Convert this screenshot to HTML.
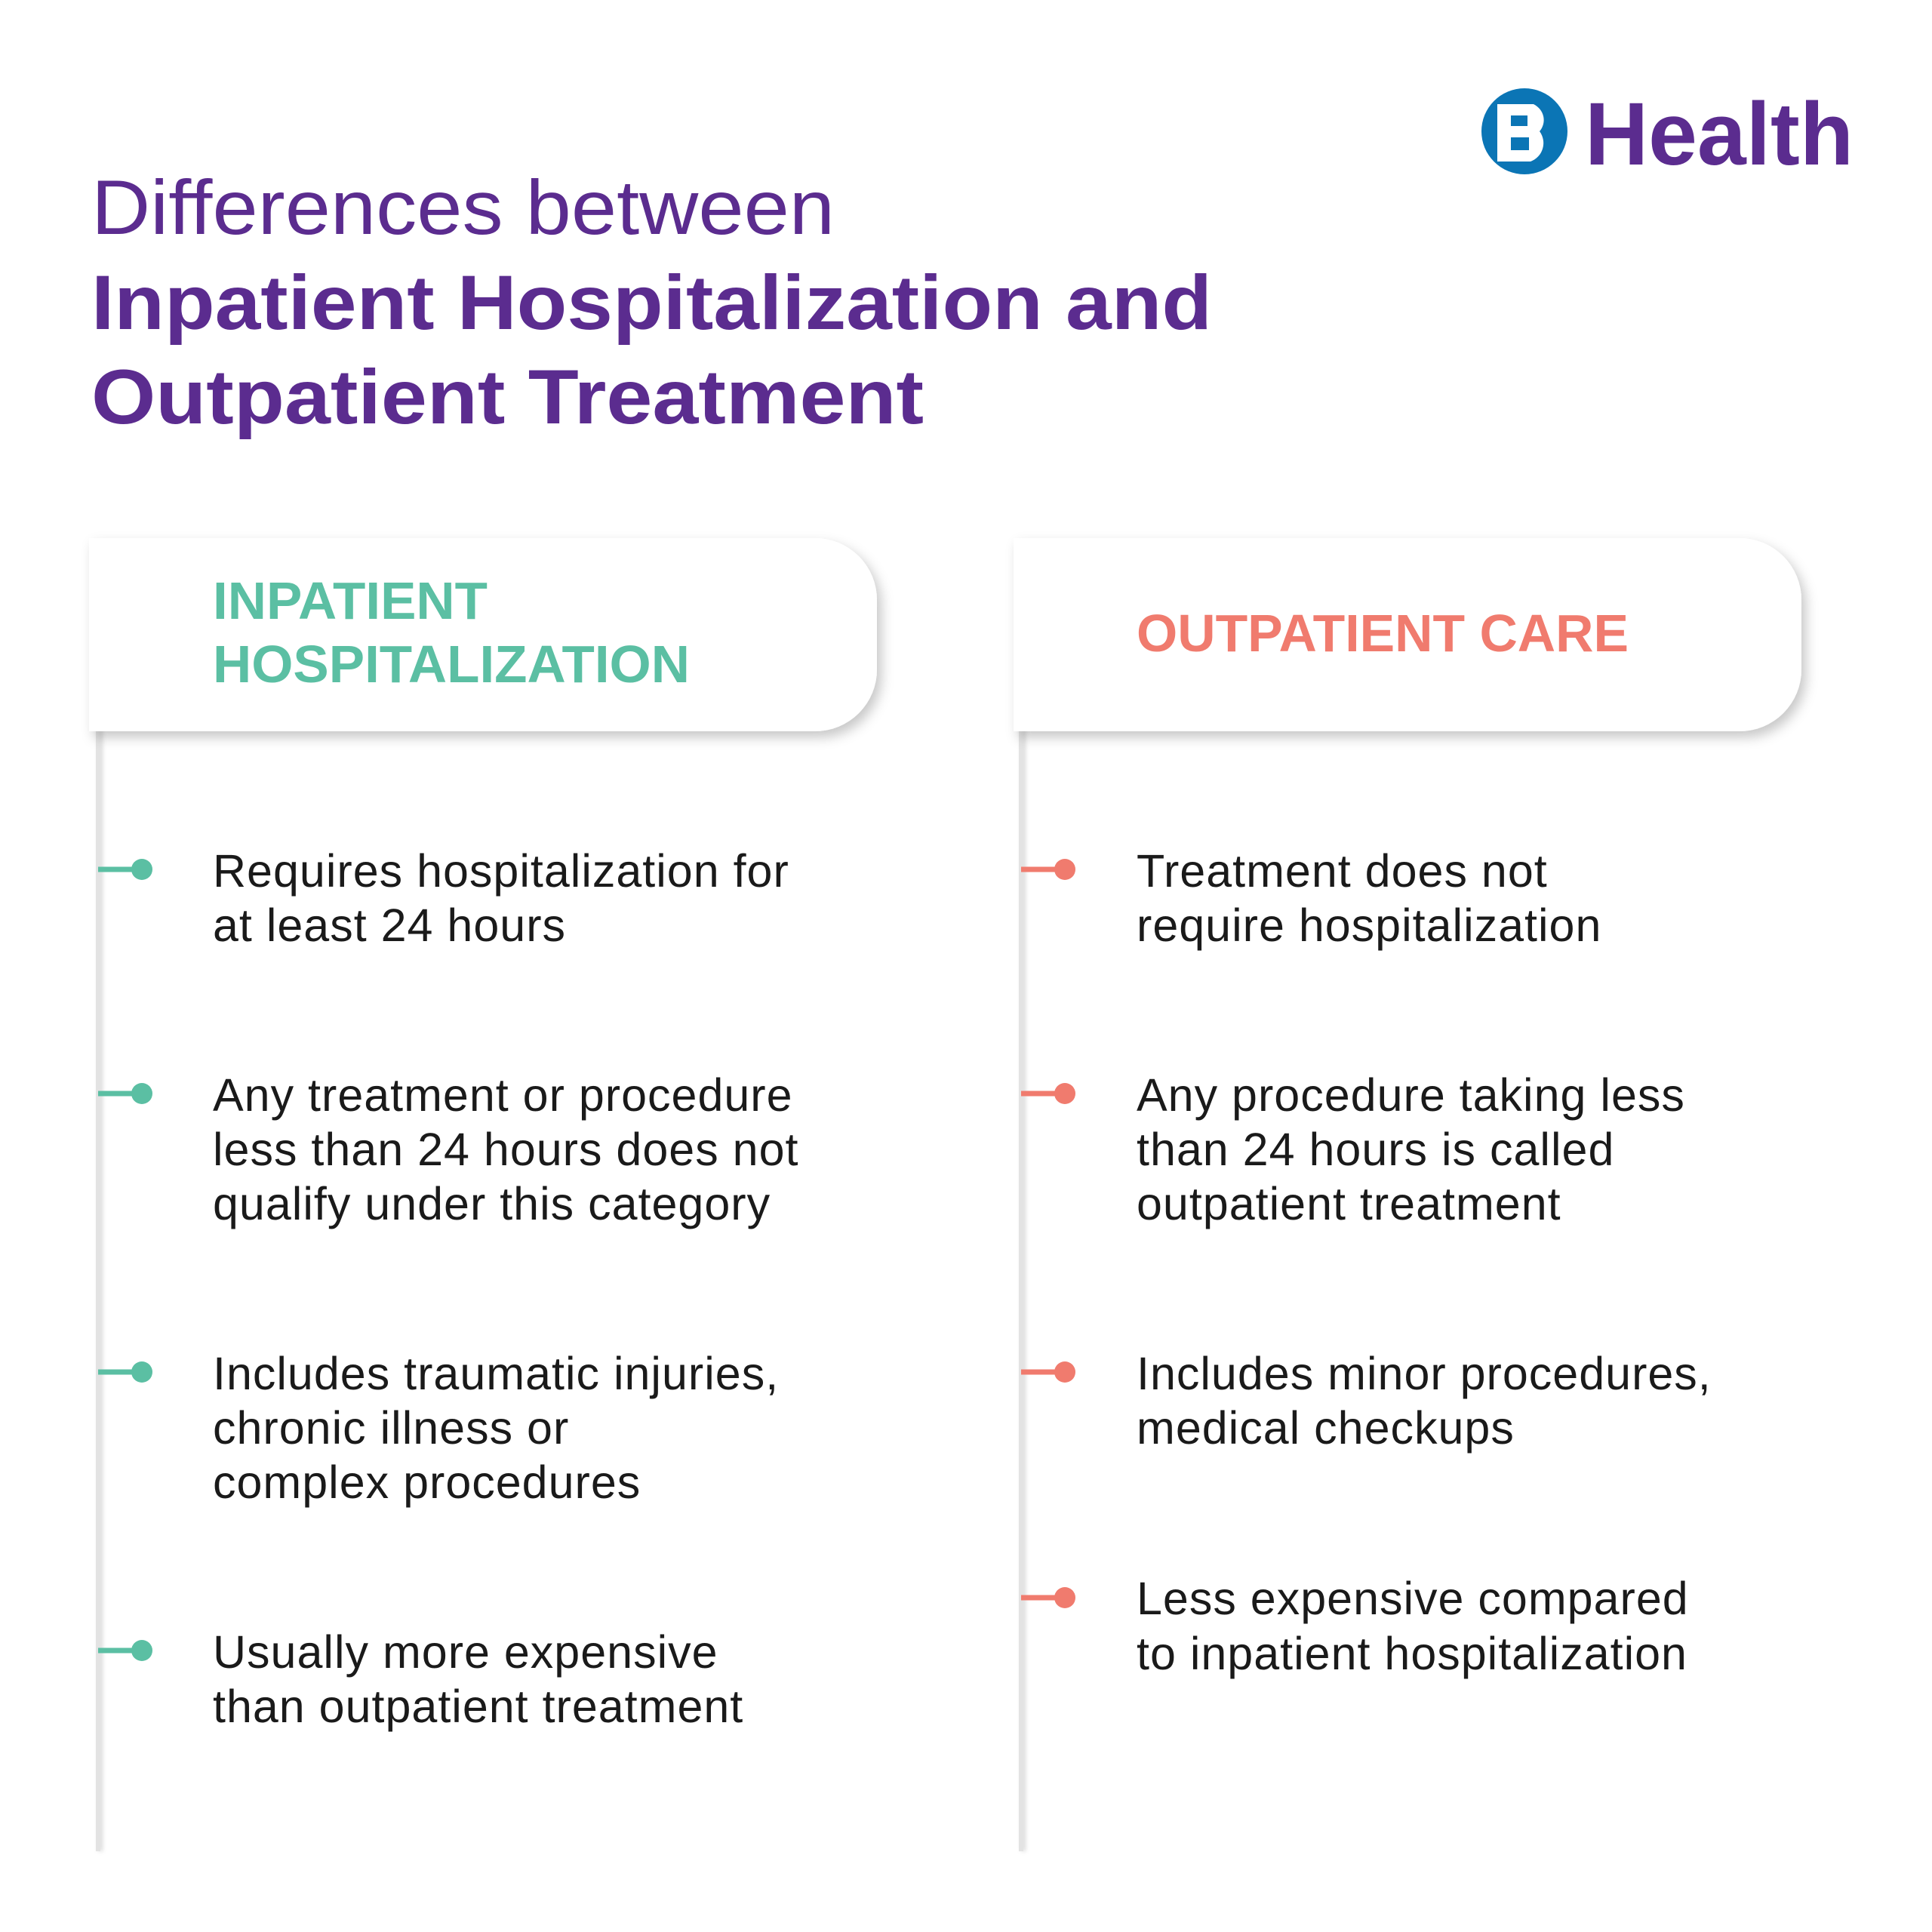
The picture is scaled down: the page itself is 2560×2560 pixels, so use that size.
<!DOCTYPE html>
<html><head><meta charset="utf-8"><style>
html,body{margin:0;padding:0;background:#fff;}
svg{display:block;}
text{font-family:"Liberation Sans",sans-serif;}
</style></head><body>
<svg width="2560" height="2560" viewBox="0 0 2560 2560" xmlns="http://www.w3.org/2000/svg">
<defs>
<filter id="sh" x="-10%" y="-20%" width="125%" height="150%">
<feDropShadow dx="6" dy="8" stdDeviation="8" flood-color="#000" flood-opacity="0.22"/>
</filter>
<filter id="ls" x="-50%" y="-5%" width="300%" height="110%">
<feDropShadow dx="3" dy="0" stdDeviation="3" flood-color="#000" flood-opacity="0.15"/>
</filter>
</defs>
<rect width="2560" height="2560" fill="#fff"/>
<!-- logo -->
<circle cx="2020" cy="174" r="57" fill="#0b75b5"/>
<path d="M1984 138 h48 a26 24 0 0 1 8 36 a26 26 0 0 1 -12 40 h-44 z M2002 153 v14 h22 v-14 z M2002 182 v17 h24 v-17 z" fill="#fff" fill-rule="evenodd"/>
<text x="2100" y="218" font-size="118" font-weight="bold" fill="#5b2c8f" textLength="356" lengthAdjust="spacingAndGlyphs">Health</text>
<!-- title -->
<text x="121" y="310" font-size="102" fill="#5b2c8f" textLength="985" lengthAdjust="spacingAndGlyphs">Differences between</text>
<text x="121" y="436" font-size="102" font-weight="bold" fill="#5b2c8f" textLength="1485" lengthAdjust="spacingAndGlyphs">Inpatient Hospitalization and</text>
<text x="121" y="561" font-size="102" font-weight="bold" fill="#5b2c8f" textLength="1103" lengthAdjust="spacingAndGlyphs">Outpatient Treatment</text>
<!-- vertical lines -->
<rect x="127" y="960" width="6" height="1493" fill="#e3e3e3" filter="url(#ls)"/>
<rect x="1350" y="960" width="6" height="1493" fill="#e3e3e3" filter="url(#ls)"/>
<!-- cards -->
<path d="M118 713 H1080 a82 82 0 0 1 82 82 V887 a82 82 0 0 1 -82 82 H118 Z" fill="#fff" filter="url(#sh)"/>
<path d="M1343 713 H2305 a82 82 0 0 1 82 82 V887 a82 82 0 0 1 -82 82 H1343 Z" fill="#fff" filter="url(#sh)"/>
<text x="282" y="820" font-size="70" font-weight="bold" fill="#5bbfa3" textLength="364" lengthAdjust="spacingAndGlyphs">INPATIENT</text>
<text x="282" y="904" font-size="70" font-weight="bold" fill="#5bbfa3" textLength="632" lengthAdjust="spacingAndGlyphs">HOSPITALIZATION</text>
<text x="1506" y="863" font-size="70" font-weight="bold" fill="#f07b6e" textLength="652" lengthAdjust="spacingAndGlyphs">OUTPATIENT CARE</text>
<!-- bullets -->
<g fill="#5bbfa3" stroke="#5bbfa3">
<g><line x1="130" y1="1152" x2="185" y2="1152" stroke-width="7"/><circle cx="188" cy="1152" r="14" stroke="none"/></g>
<g><line x1="130" y1="1449" x2="185" y2="1449" stroke-width="7"/><circle cx="188" cy="1449" r="14" stroke="none"/></g>
<g><line x1="130" y1="1818" x2="185" y2="1818" stroke-width="7"/><circle cx="188" cy="1818" r="14" stroke="none"/></g>
<g><line x1="130" y1="2187" x2="185" y2="2187" stroke-width="7"/><circle cx="188" cy="2187" r="14" stroke="none"/></g>
</g>
<g fill="#f07b6e" stroke="#f07b6e">
<g><line x1="1353" y1="1152" x2="1408" y2="1152" stroke-width="7"/><circle cx="1411" cy="1152" r="14" stroke="none"/></g>
<g><line x1="1353" y1="1449" x2="1408" y2="1449" stroke-width="7"/><circle cx="1411" cy="1449" r="14" stroke="none"/></g>
<g><line x1="1353" y1="1818" x2="1408" y2="1818" stroke-width="7"/><circle cx="1411" cy="1818" r="14" stroke="none"/></g>
<g><line x1="1353" y1="2117" x2="1408" y2="2117" stroke-width="7"/><circle cx="1411" cy="2117" r="14" stroke="none"/></g>
</g>
<g font-size="61" fill="#1a1a1a" letter-spacing="1">
<text x="282" y="1175">Requires hospitalization for</text>
<text x="282" y="1247">at least 24 hours</text>
<text x="282" y="1472">Any treatment or procedure</text>
<text x="282" y="1544">less than 24 hours does not</text>
<text x="282" y="1616">qualify under this category</text>
<text x="282" y="1841">Includes traumatic injuries,</text>
<text x="282" y="1913">chronic illness or</text>
<text x="282" y="1985">complex procedures</text>
<text x="282" y="2210">Usually more expensive</text>
<text x="282" y="2282">than outpatient treatment</text>
<text x="1506" y="1175">Treatment does not</text>
<text x="1506" y="1247">require hospitalization</text>
<text x="1506" y="1472">Any procedure taking less</text>
<text x="1506" y="1544">than 24 hours is called</text>
<text x="1506" y="1616">outpatient treatment</text>
<text x="1506" y="1841">Includes minor procedures,</text>
<text x="1506" y="1913">medical checkups</text>
<text x="1506" y="2139">Less expensive compared</text>
<text x="1506" y="2212">to inpatient hospitalization</text>
</g>
</svg>
</body></html>
